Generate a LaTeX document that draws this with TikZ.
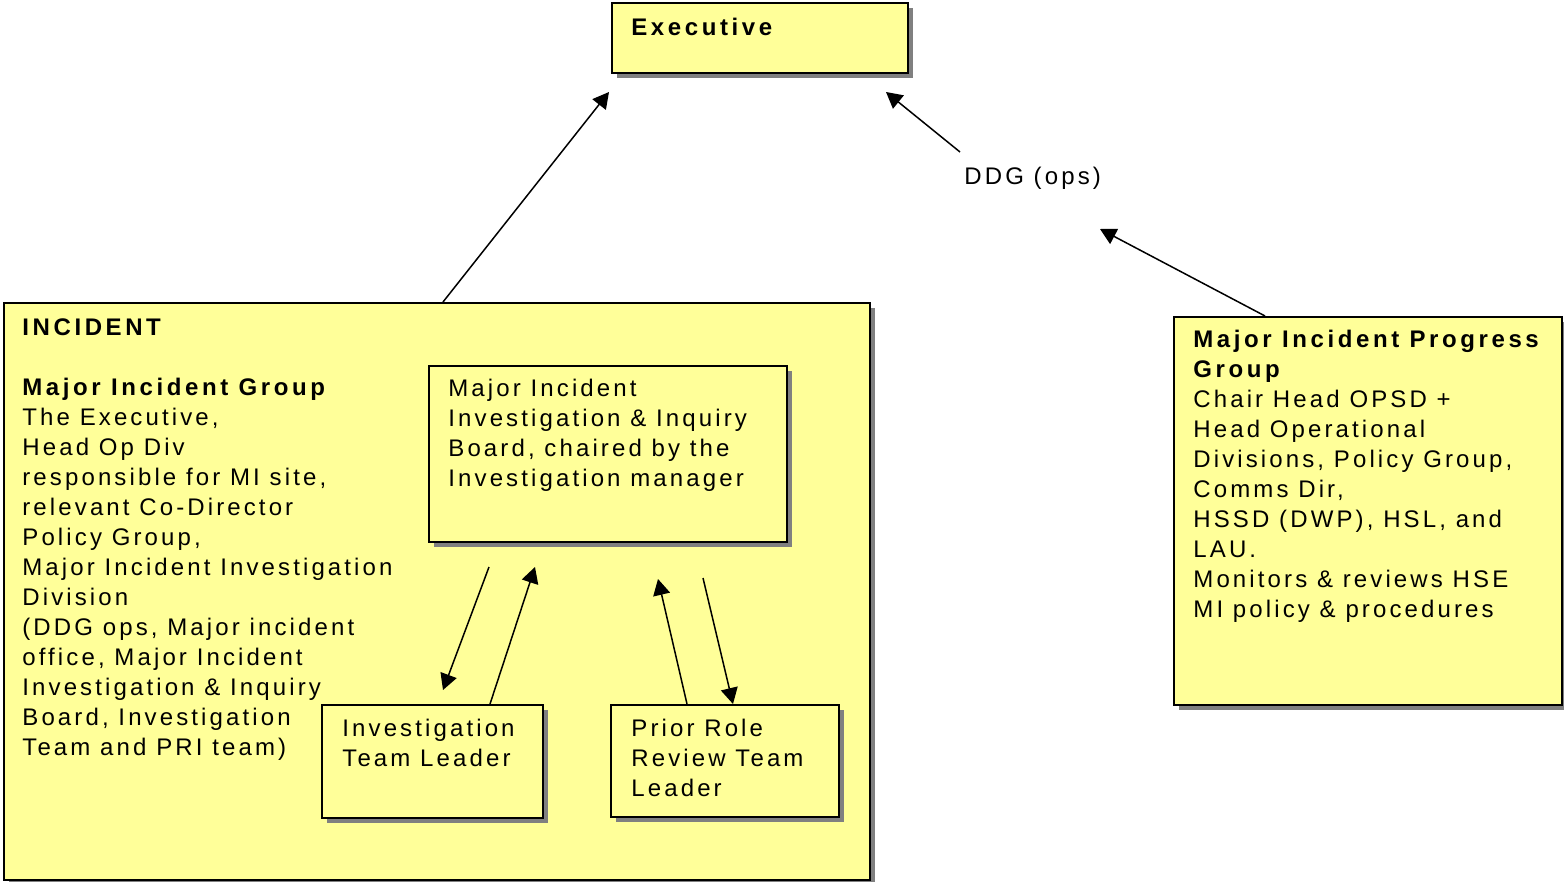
\documentclass[tikz,border=0pt]{standalone}
\usepackage{fontspec}
\setmainfont{Liberation Sans}[LetterSpace=13, BoldFeatures={LetterSpace=15}]
\usetikzlibrary{arrows.meta,shadows}

\definecolor{boxyellow}{HTML}{FFFF99}
\definecolor{shadowgrey}{HTML}{808080}

\tikzset{
  box/.style={draw, line width=1pt, fill=boxyellow, anchor=north west, inner sep=0pt,
    drop shadow={shadow xshift=2.5pt, shadow yshift=-2.5pt, fill=shadowgrey, opacity=1}},
  txt/.style={font=\fontsize{12pt}{15pt}\selectfont, align=left, anchor=north west, inner sep=0pt},
  link/.style={-{Triangle[length=8pt,width=8.5pt]}, line width=0.75pt}
}

\begin{document}
\begin{tikzpicture}[x=0.5pt,y=-0.5pt]
  \useasboundingbox[fill=white] (0,0) rectangle (1564,882);

  \node[box, minimum width=148pt, minimum height=35pt] (exec) at (611,2) {};
  \node[txt] (execlbl) at (631,14) {\strut\textbf{Executive}};

  \node[box, minimum width=433pt, minimum height=288.5pt] (incident) at (3,302) {};
  \node[txt] (inclbl) at (22,314) {\strut\textbf{INCIDENT}\\[15pt]
    \textbf{Major Incident Group}\\
    The Executive,\\
    Head Op Div\\
    responsible for MI site,\\
    relevant Co-Director\\
    Policy Group,\\
    Major Incident Investigation\\
    Division\\
    (DDG ops, Major incident\\
    office, Major Incident\\
    Investigation \& Inquiry\\
    Board, Investigation\\
    Team and PRI team)};

  \node[box, minimum width=179pt, minimum height=88pt] (board) at (428,365) {};
  \node[txt] (boardlbl) at (448,375) {\strut Major Incident\\
    Investigation \& Inquiry\\
    Board, chaired by the\\
    Investigation manager};

  \node[box, minimum width=110.5pt, minimum height=56.5pt] (itl) at (321,704) {};
  \node[txt] (itllbl) at (342,715) {\strut Investigation\\ Team Leader};

  \node[box, minimum width=114pt, minimum height=56pt] (prior) at (610,704) {};
  \node[txt] (priorlbl) at (631,715) {\strut Prior Role\\ Review Team\\ Leader};

  \node[box, minimum width=194pt, minimum height=194pt] (mipg) at (1173,316) {};
  \node[txt] (mipglbl) at (1193,326) {\strut\textbf{Major Incident Progress}\\
    \textbf{Group}\\
    Chair Head OPSD +\\
    Head Operational\\
    Divisions, Policy Group,\\
    Comms Dir,\\
    HSSD (DWP), HSL, and\\
    LAU.\\
    Monitors \& reviews HSE\\
    MI policy \& procedures};

  \node[txt] (ddg) at (964,163) {\strut DDG (ops)};

  \coordinate (execIn) at (609,92);
  \coordinate (execTip) at (886,92);
  \coordinate (ddgOut) at (960,152);
  \coordinate (ddgIn) at (1100,229);
  \coordinate (boardOut1) at (489,567);
  \coordinate (boardIn1) at (535,567);
  \coordinate (boardIn2) at (658,579);
  \coordinate (boardOut2) at (703,578);
  \coordinate (itlIn) at (443,690);

  \draw[link] ([xshift=220pt]incident.north west) -- (execIn);
  \draw[link] (ddgOut) -- (execTip);
  \draw[link] ([xshift=46pt]mipg.north west) -- (ddgIn);

  \draw[link] (boardOut1) -- (itlIn);
  \draw[link] ([xshift=84.5pt]itl.north west) -- (boardIn1);
  \draw[link] ([xshift=38.5pt]prior.north west) -- (boardIn2);
  \draw[link] (boardOut2) -- ([xshift=61.5pt]prior.north west);
\end{tikzpicture}
\end{document}
